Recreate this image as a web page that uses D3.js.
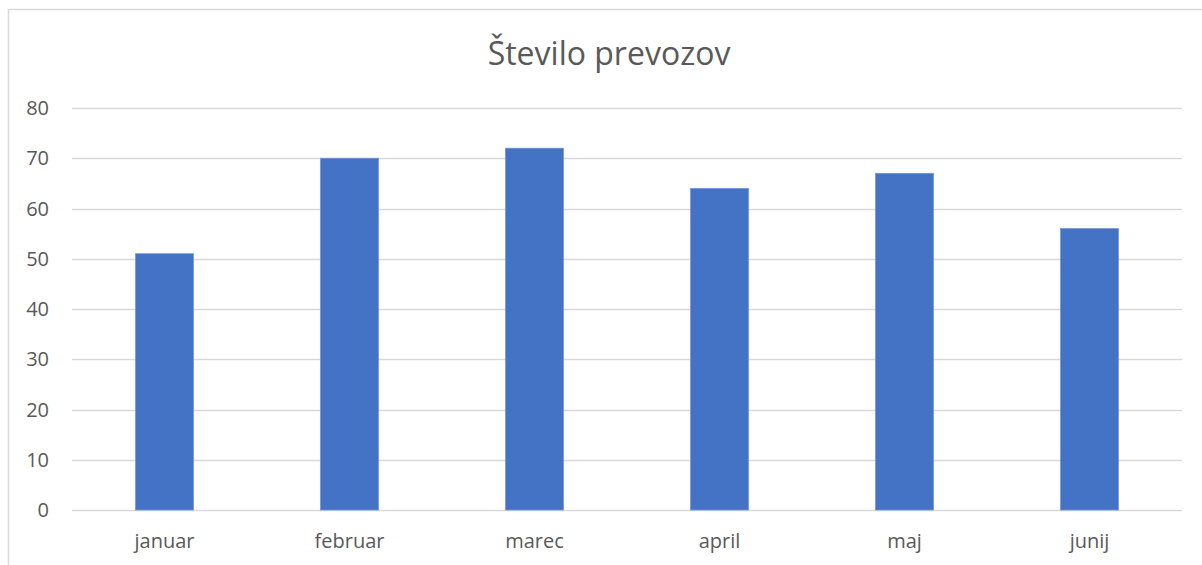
<!DOCTYPE html>
<html>
<head>
<meta charset="utf-8">
<script src="https://cdn.jsdelivr.net/npm/d3@7"></script>
<style>
    body { margin: 0; background: #fff; }
    text { font-family: "Open Sans", sans-serif; fill: #595959; }
</style>
</head>
<body>
<script>
var title = 'Število prevozov';
var months = ['januar', 'februar', 'marec', 'april', 'maj', 'junij'];
var rides = [51, 70, 72, 64, 67, 56];
var yTicks = [0, 10, 20, 30, 40, 50, 60, 70, 80];

window.document.addEventListener('DOMContentLoaded', init, false);

function init() {
    var svg = d3.select('body').append('svg')
        .attr('width', 1202)
        .attr('height', 565);

    // chart border (runs off the right and bottom edge)
    svg.append('rect')
        .attr('x', 8.5)
        .attr('y', 9.5)
        .attr('width', 1300)
        .attr('height', 700)
        .attr('fill', 'none')
        .attr('stroke', '#D9D9D9')
        .attr('stroke-width', 1.5);

    var x = d3.scaleBand()
        .domain(months)
        .range([72, 1182])
        .paddingInner(0.687)
        .paddingOuter(0.3435);

    var y = d3.scaleLinear()
        .domain([0, 80])
        .range([510, 108]);

    // gridlines
    svg.append('g').selectAll('line')
        .data(yTicks)
        .enter()
            .append('line')
            .attr('x1', 72)
            .attr('x2', 1182)
            .attr('y1', (d) => Math.round(y(d)) + 0.5)
            .attr('y2', (d) => Math.round(y(d)) + 0.5)
            .attr('stroke', '#D9D9D9')
            .attr('stroke-width', 1.5);

    // y labels
    svg.append('g').selectAll('text')
        .data(yTicks)
        .enter()
            .append('text')
            .attr('x', 49)
            .attr('y', (d) => y(d))
            .attr('dy', '0.36em')
            .attr('text-anchor', 'end')
            .attr('font-size', 20)
            .text((d) => d);

    // bars
    svg.append('g').selectAll('rect')
        .data(rides)
        .enter()
            .append('rect')
            .attr('x', (d, i) => x(months[i]))
            .attr('y', (d) => y(d))
            .attr('width', x.bandwidth())
            .attr('height', (d) => y(0) - y(d))
            .attr('fill', '#4472C4')
            .attr('stroke', '#6F93D3')
            .attr('stroke-width', 0.75);

    // x labels
    svg.append('g').selectAll('text')
        .data(months)
        .enter()
            .append('text')
            .attr('x', (d) => x(d) + x.bandwidth() / 2)
            .attr('y', 548)
            .attr('text-anchor', 'middle')
            .attr('font-size', 20)
            .text((d) => d);

    svg.append('text')
        .attr('x', 609)
        .attr('y', 65)
        .attr('text-anchor', 'middle')
        .attr('font-size', 32)
        .text(title);
}
</script>
</body>
</html>
